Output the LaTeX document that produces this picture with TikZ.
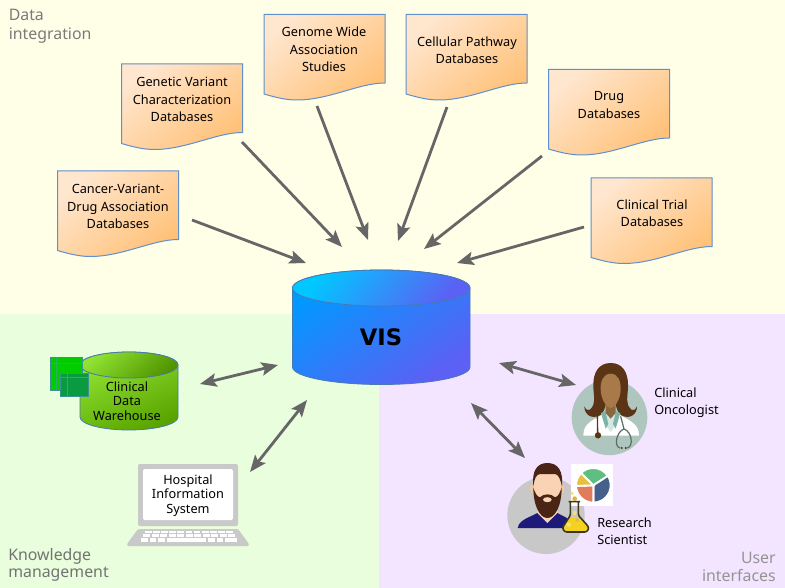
\documentclass[tikz,border=0pt]{standalone}
\usepackage{fontspec}
\setmainfont{Noto Sans}
\newfontfamily\visfont{DejaVu Sans}
\usetikzlibrary{arrows.meta,calc}
\definecolor{bgyellow}{HTML}{FFFFE8}
\definecolor{bggreen}{HTML}{E8FEDC}
\definecolor{bgpurple}{HTML}{F3E4FF}
\definecolor{arrowgray}{HTML}{666666}
\definecolor{docedge}{HTML}{5F90CC}
\definecolor{docA}{HTML}{FFE6CE}
\definecolor{docB}{HTML}{FFC27A}
\definecolor{capedge}{HTML}{4A78B0}
\definecolor{visA}{HTML}{00B4FF}
\definecolor{visB}{HTML}{5C60F4}
\definecolor{visC}{HTML}{00C8FF}
\definecolor{grnA}{HTML}{90E432}
\definecolor{grnB}{HTML}{5AA400}
\definecolor{lapgray}{HTML}{C9C9C9}
\definecolor{hair}{HTML}{5A3414}
\definecolor{skinD}{HTML}{A87A4A}
\definecolor{skinS}{HTML}{FAD3B4}
\definecolor{beard}{HTML}{4A2516}
\tikzset{
  x=0.75pt,y=-0.75pt,
  arr/.style={draw=arrowgray,line width=2.1pt,-{Stealth[length=12.5pt,width=10pt,inset=2.5pt]}},
  bi/.style={draw=arrowgray,line width=2.1pt,{Stealth[length=12.5pt,width=10pt,inset=2.5pt]}-{Stealth[length=12.5pt,width=10pt,inset=2.5pt]}},
  lab/.style={align=center,inner sep=0pt,font=\fontsize{9.55}{13}\selectfont,text=black},
  corner/.style={inner sep=0pt,font=\fontsize{11.9}{13}\selectfont},
  doc/.pic={
    \path[draw=docedge,line width=0.75pt,top color=docA,bottom color=docB,shading angle=40]
      (0,0) -- (121,0) -- (121,68.5)
      .. controls (95,68.5) and (65,85.5) .. (33,85.5)
      .. controls (22,85.5) and (12,83) .. (0,79.5) -- cycle;
  },
}
\begin{document}
\begin{tikzpicture}
\useasboundingbox (0,0) rectangle (785,588);
% backgrounds
\fill[bgyellow] (0,0) rectangle (785,314);
\fill[bggreen] (0,314) rectangle (379,588);
\fill[bgpurple] (379,314) rectangle (785,588);
% corner labels
\node[corner,anchor=west,align=left,text=black!52,font=\fontsize{11.9}{14.3}\selectfont] (l1) at (8.5,26.5) {Data\\integration};
\node[corner,anchor=west,align=left,text=black!55] (l2) at (8,565) {Knowledge\\management};
\node[corner,anchor=east,align=right,text=black!42] (l3) at (776,567) {User\\interfaces};
% documents
\pic at (57.5,171) {doc};
\pic at (121.5,64) {doc};
\pic at (264,14.5) {doc};
\pic at (406,14.5) {doc};
\pic at (548.5,69.5) {doc};
\pic at (591,178) {doc};
\node[lab] (d1) at (118,206.5) {Cancer-Variant-\\Drug Association\\Databases};
\node[lab] (d2) at (182,99.5) {Genetic Variant\\Characterization\\Databases};
\node[lab] (d3) at (324,49.5) {Genome Wide\\Association\\Studies};
\node[lab] (d4) at (467,50) {Cellular Pathway\\Databases};
\node[lab] (d5) at (609,105) {Drug\\Databases};
\node[lab] (d6) at (652,213) {Clinical Trial\\Databases};
% VIS cylinder
\path[draw=capedge,line width=0.6pt,top color=visA!85!blue,bottom color=visB,shading angle=35]
  (292.5,288) -- (292.5,367) arc[start angle=180,end angle=360,x radius=88.75,y radius=-17.5]
  -- (470,288) arc[start angle=0,end angle=180,x radius=88.75,y radius=-18] -- cycle;
\path[draw=capedge,line width=0.6pt,top color=visC,bottom color=visB,shading angle=50]
  (381.25,288) ellipse[x radius=88.75,y radius=18];
\node[inner sep=0pt,font=\visfont\bfseries\fontsize{17}{20}\selectfont] (vis) at (381,337) {VIS};
% green cylinder
\path[draw=capedge,line width=0.6pt,top color=grnA,bottom color=grnB,shading angle=25]
  (80,365) -- (80,417) arc[start angle=180,end angle=360,x radius=49,y radius=-13]
  -- (178,365) arc[start angle=0,end angle=180,x radius=49,y radius=-13] -- cycle;
\path[draw=capedge,line width=0.6pt,top color=grnA,bottom color=grnB!90!black,shading angle=40]
  (129,365) ellipse[x radius=49,y radius=13];
% tables
\draw[fill={rgb,255:red,0;green,204;blue,0},draw=capedge!80!green,line width=0.7pt] (50.5,357.5) rectangle (82,390);
\draw[draw=capedge!60!green,line width=0.4pt] (56.5,357.5) -- (56.5,390) (50.5,363) -- (82,363);
\draw[fill={rgb,255:red,10;green,154;blue,64},draw=capedge!80!green,line width=0.7pt] (60.5,373) rectangle (88,396);
\draw[draw=capedge!60!green,line width=0.4pt] (67,373) -- (67,396) (60.5,377) -- (88,377);
\node[lab,font=\fontsize{9.55}{10.9}\selectfont] (cdw) at (127,401) {Clinical\\Data\\Warehouse};
% laptop
\fill[lapgray,rounded corners=1.5pt] (138,464) rectangle (238,526);
\fill[white,rounded corners=1.5pt] (143,469) rectangle (233,520);
\fill[lapgray,rounded corners=1pt] (138,529) -- (238,529) -- (249,544) -- (249,546) -- (127,546) -- (127,544) -- cycle;
\foreach \i in {0,...,10}{
  \fill[white] ({145+\i*8.1},531) rectangle ++(6.8,2.2);
  \fill[white] ({143+\i*8.5},534.2) rectangle ++(7.2,2.6);
}
\foreach \a/\b in {141/148,149.5/156,158/165,166.5/206,208/215,216.5/223,225/237}{
  \fill[white] (\a,537.8) rectangle (\b,541.5);
}
\node[lab,font=\fontsize{9.55}{10.9}\selectfont] (his) at (188,495.5) {Hospital\\Information\\System};
% doctor
\begin{scope}[shift={(565,358)},scale=1/3]
  \fill[fill={rgb,255:red,174;green,198;blue,189}] (133.5,178) circle[radius=113.5];
  \fill[white] (55,233) .. controls (55,200) and (75,190) .. (112,170) -- (162,170)
    .. controls (200,190) and (222,200) .. (222,233) -- cycle;
  \fill[hair] (137,15) .. controls (100,15) and (85,45) .. (85,80)
    .. controls (85,120) and (95,135) .. (75,155) .. controls (70,160) and (62,155) .. (58,145)
    .. controls (58,170) and (80,185) .. (105,172) .. controls (115,165) and (120,150) .. (122,140)
    -- (152,140) .. controls (154,150) and (159,165) .. (169,172)
    .. controls (194,185) and (216,170) .. (216,145) .. controls (212,155) and (204,160) .. (199,155)
    .. controls (179,135) and (189,120) .. (189,80) .. controls (189,45) and (174,15) .. (137,15) -- cycle;
  \fill[fill={rgb,255:red,212;green,232;blue,226}] (112,165) -- (162,165) -- (150,205) -- (137,222) -- (124,205) -- cycle;
  \fill[fill={rgb,255:red,124;green,178;blue,168}] (108,165) -- (121,160) -- (130,198) -- (122,212) -- cycle;
  \fill[fill={rgb,255:red,124;green,178;blue,168}] (166,165) -- (153,160) -- (144,198) -- (152,212) -- cycle;
  \fill[fill={rgb,255:red,138;green,104;blue,62}] (122,130) -- (152,130) -- (152,165) -- (137,182) -- (122,165) -- cycle;
  \fill[skinD] (137,47) .. controls (115,47) and (106,70) .. (107,95)
    .. controls (108,125) and (125,150) .. (137,150) .. controls (149,150) and (166,125) .. (167,95)
    .. controls (168,70) and (159,47) .. (137,47) -- cycle;
  \draw[hair,line width=1pt] (97,170) -- (98,225);
  \fill[hair] (99,232) circle[radius=9.5];
  \draw[draw={rgb,255:red,92;green,110;blue,100},line width=0.9pt]
    (167,175) -- (177,213)
    .. controls (155,220) and (145,265) .. (165,270)
    (177,213) .. controls (200,220) and (207,265) .. (187,270);
  \fill[hair] (170,270) circle[radius=3.5] (182,270) circle[radius=3.5];
\end{scope}
\node[lab,anchor=west,align=left] (onc) at (654,402.5) {Clinical\\Oncologist};
% scientist
\begin{scope}[shift={(500,458)},scale=1/3]
  \fill[fill={rgb,255:red,200;green,200;blue,200}] (138,172) circle[radius=116];
  \fill[fill={rgb,255:red,29;green,26;blue,122}] (53,210) .. controls (58,185) and (85,180) .. (112,165)
    -- (172,165) .. controls (190,175) and (205,180) .. (212,190) -- (215,210) -- cycle;
  \fill[skinS] (112,140) -- (172,140) -- (172,165) -- (142,195) -- (112,165) -- cycle;
  \fill[skinS!85!brown] (96,92) ellipse[x radius=6,y radius=12] (188,92) ellipse[x radius=6,y radius=12];
  \fill[skinS] (142,85) ellipse[x radius=42,y radius=50];
  \fill[beard] (100,85) .. controls (95,40) and (110,15) .. (142,15)
    .. controls (175,15) and (190,40) .. (186,85)
    .. controls (180,60) and (175,50) .. (165,48) -- (120,48)
    .. controls (108,50) and (104,60) .. (100,85) -- cycle;
  \fill[beard] (100,88) .. controls (100,145) and (120,180) .. (142,180)
    .. controls (165,180) and (185,145) .. (185,88)
    .. controls (180,105) and (175,115) .. (165,118)
    .. controls (155,106) and (130,106) .. (120,118)
    .. controls (110,115) and (105,105) .. (100,88) -- cycle;
  \fill[skinS] (142,125) ellipse[x radius=13,y radius=7.5];
  % chart
  \fill[white] (213,18) rectangle (340,143);
  \begin{scope}[draw=white,line width=1.4pt]
    \filldraw[fill={rgb,255:red,95;green,191;blue,128}] (280,82) -- ($(280,82)+(-33:52)$) arc[start angle=-33,end angle=-135,radius=52] -- cycle;
    \filldraw[fill={rgb,255:red,70;green,96;blue,140}] (280,82) -- ($(280,82)+(-33:52)$) arc[start angle=-33,end angle=90,radius=52] -- cycle;
    \filldraw[fill={rgb,255:red,224;green,123;blue,92}] (280,82) -- ($(280,82)+(90:52)$) arc[start angle=90,end angle=178,radius=52] -- cycle;
    \filldraw[fill={rgb,255:red,232;green,192;blue,64}] (280,82) -- ($(280,82)+(178:52)$) arc[start angle=178,end angle=225,radius=52] -- cycle;
  \end{scope}
  % flask
  \fill[fill={rgb,255:red,246;green,210;blue,32}] (208,178) -- (237,178) -- (262,202)
    .. controls (268,212) and (262,222) .. (250,222) -- (205,222)
    .. controls (192,222) and (186,212) .. (192,202) -- cycle;
  \draw[draw={rgb,255:red,60;green,56;blue,32},line width=1.2pt,rounded corners=1pt]
    (206,131) -- (240,131) (211,131) -- (211,172) -- (192,202)
    .. controls (186,212) and (192,222) .. (205,222) -- (250,222)
    .. controls (262,222) and (268,212) .. (262,202) -- (235,172) -- (235,131);
  \fill[fill={rgb,255:red,226;green,176;blue,60}] (224,122) circle[radius=7];
  \fill[fill={rgb,255:red,244;green,226;blue,110}] (216,106) circle[radius=5] (224,165) circle[radius=6] (206,200) circle[radius=7];
  \fill[fill={rgb,255:red,226;green,186;blue,90}] (232,186) circle[radius=6];
\end{scope}
\node[lab,anchor=west,align=left] (res) at (597,531.5) {Research\\Scientist};
% arrow end points
\coordinate (s1) at (192,220); \coordinate (e1) at (306,263);
\coordinate (s2) at (242,142); \coordinate (e2) at (342,247);
\coordinate (s3) at (317,106); \coordinate (e3) at (368,240);
\coordinate (s4) at (447,107); \coordinate (e4) at (398,241);
\coordinate (s5) at (542,156); \coordinate (e5) at (424,249);
\coordinate (s6) at (584,227); \coordinate (e6) at (457,263);
\coordinate (b1) at (200,384); \coordinate (c1) at (278,365);
\coordinate (b2) at (250,472); \coordinate (c2) at (307,400);
\coordinate (b3) at (499,363); \coordinate (c3) at (576,385);
\coordinate (b4) at (471,403); \coordinate (c4) at (525,458);
\draw[arr] (s1) -- (e1);
\draw[arr] (s2) -- (e2);
\draw[arr] (s3) -- (e3);
\draw[arr] (s4) -- (e4);
\draw[arr] (s5) -- (e5);
\draw[arr] (s6) -- (e6);
\draw[bi] (b1) -- (c1);
\draw[bi] (b2) -- (c2);
\draw[bi] (b3) -- (c3);
\draw[bi] (b4) -- (c4);
\end{tikzpicture}
\end{document}
